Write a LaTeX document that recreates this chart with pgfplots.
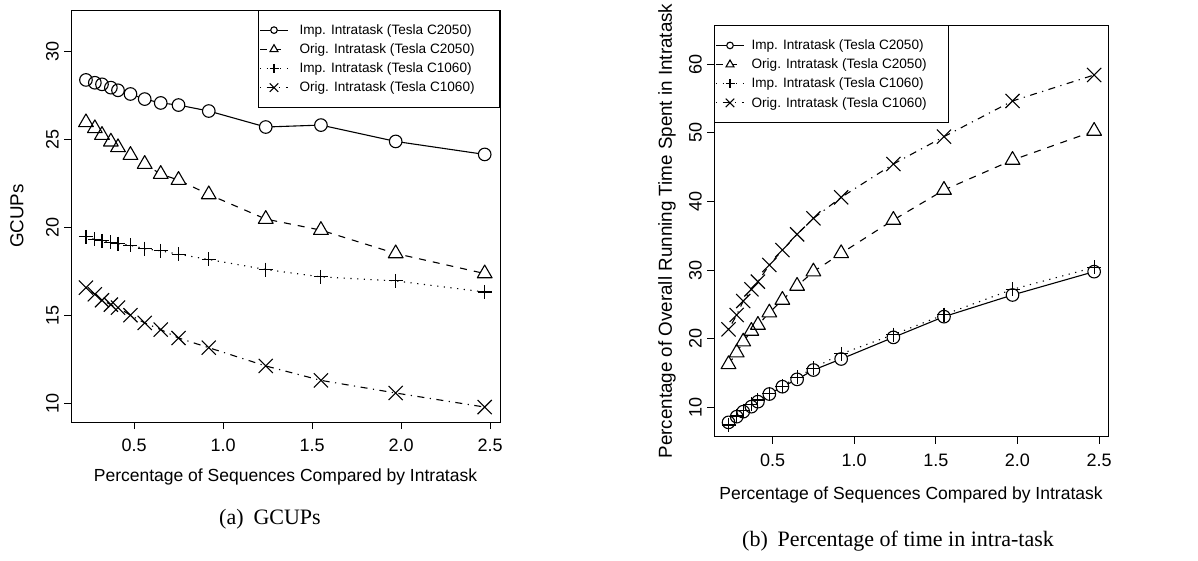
\documentclass[border=0pt]{standalone}
\usepackage{fontspec}
\setmainfont{Liberation Sans}
\newfontfamily\capfont{Liberation Serif}
\usepackage{pgfplots}
\usepackage{pgfplotstable}
\pgfplotsset{compat=1.18}

\pgfplotstableread{
x    c     t     p     k
0.23 28.39 25.97 19.46 16.57
0.28 28.23 25.63 19.31 16.19
0.32 28.14 25.25 19.23 15.85
0.37 27.95 24.87 19.14 15.60
0.41 27.80 24.55 19.08 15.43
0.48 27.59 24.11 18.97 15.00
0.56 27.30 23.60 18.79 14.56
0.65 27.08 23.03 18.66 14.18
0.75 26.96 22.69 18.47 13.70
0.92 26.62 21.87 18.17 13.15
1.24 25.71 20.47 17.60 12.11
1.55 25.82 19.84 17.18 11.29
1.97 24.89 18.51 16.95 10.57
2.47 24.15 17.37 16.32 9.77
}\gcups

\pgfplotstableread{
x    c     t     p     k
0.23 7.81  16.27 7.42  21.37
0.28 8.64  17.97 8.74  23.46
0.32 9.37  19.57 9.51  25.50
0.37 10.10 21.13 10.44 27.20
0.41 10.83 22.00 11.07 28.32
0.48 11.94 23.80 12.00 30.75
0.56 13.01 25.65 13.10 32.93
0.65 14.08 27.69 14.40 35.22
0.75 15.44 29.78 15.70 37.55
0.92 17.05 32.45 17.80 40.61
1.24 20.20 37.31 20.60 45.47
1.55 23.22 41.68 23.50 49.46
1.97 26.38 46.05 27.20 54.66
2.47 29.78 50.28 30.40 58.45
}\pct

\tikzset{
  ldash/.style={dash pattern=on 7pt off 7pt},
  ldot/.style={dash pattern=on 1.2pt off 5.5pt},
  ldotdash/.style={dash pattern=on 1.2pt off 5.5pt on 7pt off 5.5pt},
  lw/.style={line width=1.1pt},
}
\pgfplotsset{
  rstyle/.style={
    scale only axis,
    axis line style={line width=0.9pt},
    xtick pos=bottom, ytick pos=left,
    tick align=outside,
    major tick length=7pt,
    every tick/.style={black,line width=0.9pt},
    ticklabel style={font=\fontsize{18}{20}\selectfont},
    xticklabel style={anchor=north, inner sep=0pt},
    yticklabel style={rotate=90, anchor=south, inner sep=0pt},
    xticklabel shift=9.75pt,
    yticklabel shift=5pt,
    xtick={0.5,1,1.5,2,2.5},
    xticklabels={0.5,1.0,1.5,2.0,2.5},
    legend cell align=left,
    legend image code/.code={\draw[##1,mark repeat=2,mark phase=2] plot coordinates {(0pt,0pt) (14pt,0pt) (28pt,0pt)};},
    legend style={draw=black, line width=0.9pt, font=\fontsize{13.6}{16}\selectfont,
      inner xsep=1pt, inner ysep=12pt, row sep=3.8pt, nodes={inner sep=2pt}},
  },
  marksA/.style={forget plot, only marks, mark=*, mark size=6.3pt, mark options={draw=white, fill=white, line width=0.3pt}},
  marksAo/.style={forget plot, only marks, mark=o, mark size=6.3pt, mark options={lw}},
  marksB/.style={forget plot, only marks, mark=triangle*, mark size=8.5pt, mark options={draw=white, fill=white, line width=0.3pt}},
  marksBo/.style={forget plot, only marks, mark=triangle, mark size=8.5pt, mark options={lw, line join=round}},
  marksC/.style={forget plot, only marks, mark=+, mark size=7pt, mark options={lw}},
  marksD/.style={forget plot, only marks, mark=x, mark size=10pt, mark options={lw}},
}

\begin{document}
\begin{tikzpicture}
\useasboundingbox (0,0) rectangle (1198pt,-560pt);

\begin{axis}[rstyle,
  at={(71pt,-422pt)}, anchor=south west,
  width=429pt, height=412pt,
  xmin=0.146, xmax=2.556, ymin=8.92, ymax=32.37,
  ytick={10,15,20,25,30}, yticklabels={10,15,20,25,30},
  legend style={at={(1,1)}, anchor=north east, /tikz/every odd column/.style={column sep=9pt}},
]
\addlegendimage{lw, mark=*, mark size=3.3pt, mark options={solid, fill=white, draw=black}}
\addlegendentry{\makebox[197pt][l]{Imp. Intratask (Tesla C2050)}}
\addlegendimage{lw, ldash, mark=triangle*, mark size=4.6pt, mark options={solid, fill=white, draw=black}}
\addlegendentry{\makebox[197pt][l]{Orig. Intratask (Tesla C2050)}}
\addlegendimage{lw, ldot, mark=+, mark size=4.5pt, mark options={solid}}
\addlegendentry{\makebox[197pt][l]{Imp. Intratask (Tesla C1060)}}
\addlegendimage{lw, ldotdash, mark=x, mark size=6pt, mark options={solid}}
\addlegendentry{\makebox[197pt][l]{Orig. Intratask (Tesla C1060)}}

\addplot[forget plot, lw] table[x=x,y=c]{\gcups};
\addplot[marksA] table[x=x,y=c]{\gcups};
\addplot[marksAo] table[x=x,y=c]{\gcups};
\addplot[forget plot, lw, ldash] table[x=x,y=t]{\gcups};
\addplot[marksB] table[x=x,y=t]{\gcups};
\addplot[marksBo] table[x=x,y=t]{\gcups};
\addplot[forget plot, lw, ldot] table[x=x,y=p]{\gcups};
\addplot[marksC] table[x=x,y=p]{\gcups};
\addplot[forget plot, lw, ldotdash] table[x=x,y=k]{\gcups};
\addplot[marksD] table[x=x,y=k]{\gcups};
\end{axis}

\begin{axis}[rstyle,
  at={(714pt,-436.7pt)}, anchor=south west,
  width=394pt, height=411.4pt,
  xmin=0.141, xmax=2.555, ymin=5.72, ymax=65.69,
  ytick={10,20,30,40,50,60}, yticklabels={10,20,30,40,50,60},
  legend style={at={(0,1)}, anchor=north west, /tikz/every odd column/.style={column sep=5pt}},
]
\addlegendimage{lw, mark=*, mark size=3.3pt, mark options={solid, fill=white, draw=black}}
\addlegendentry{\makebox[194pt][l]{Imp. Intratask (Tesla C2050)}}
\addlegendimage{lw, ldash, mark=triangle*, mark size=4.6pt, mark options={solid, fill=white, draw=black}}
\addlegendentry{\makebox[194pt][l]{Orig. Intratask (Tesla C2050)}}
\addlegendimage{lw, ldot, mark=+, mark size=4.5pt, mark options={solid}}
\addlegendentry{\makebox[194pt][l]{Imp. Intratask (Tesla C1060)}}
\addlegendimage{lw, ldotdash, mark=x, mark size=6pt, mark options={solid}}
\addlegendentry{\makebox[194pt][l]{Orig. Intratask (Tesla C1060)}}

\addplot[forget plot, lw] table[x=x,y=c]{\pct};
\addplot[marksA] table[x=x,y=c]{\pct};
\addplot[marksAo] table[x=x,y=c]{\pct};
\addplot[forget plot, lw, ldash] table[x=x,y=t]{\pct};
\addplot[marksB] table[x=x,y=t]{\pct};
\addplot[marksBo] table[x=x,y=t]{\pct};
\addplot[forget plot, lw, ldot] table[x=x,y=p]{\pct};
\addplot[marksC] table[x=x,y=p]{\pct};
\addplot[forget plot, lw, ldotdash] table[x=x,y=k]{\pct};
\addplot[marksD] table[x=x,y=k]{\pct};
\end{axis}

\node[rotate=90, font=\fontsize{18.8}{22}\selectfont] at (17pt,-216pt) {GCUPs};
\node[font=\fontsize{17.5}{20}\selectfont] at (285.5pt,-477pt) {Percentage of Sequences Compared by Intratask};
\node[rotate=90, font=\fontsize{18.8}{22}\selectfont] at (667pt,-231pt) {Percentage of Overall Running Time Spent in Intratask};
\node[font=\fontsize{17.5}{20}\selectfont] at (911pt,-495pt) {Percentage of Sequences Compared by Intratask};
\node[font=\capfont\fontsize{22}{26}\selectfont] at (270pt,-519pt) {(a)\hspace{0.45em}GCUPs};
\node[font=\capfont\fontsize{22}{26}\selectfont] at (898pt,-541pt) {(b)\hspace{0.45em}Percentage of time in intra-task};
\end{tikzpicture}
\end{document}
